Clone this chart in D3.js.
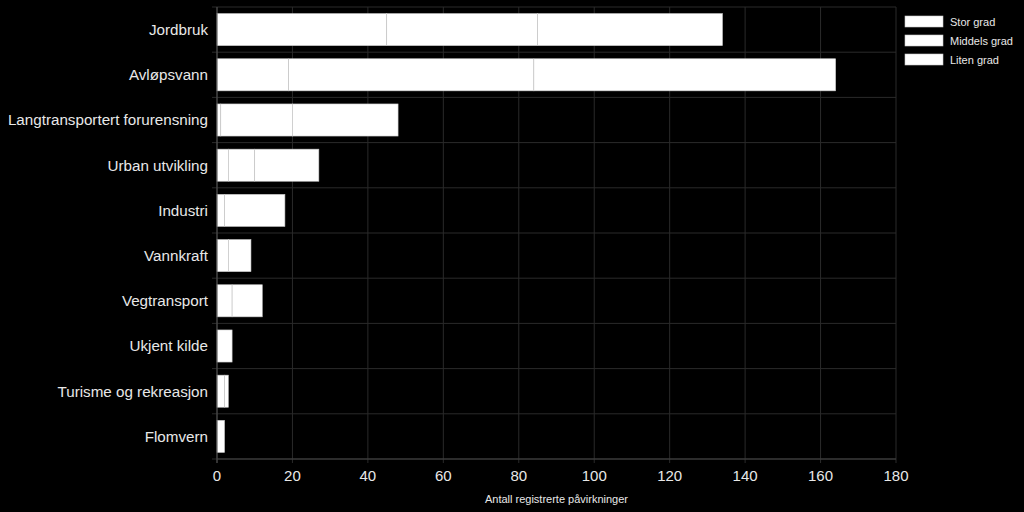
<!DOCTYPE html>
<html><head><meta charset="utf-8">
<script src="https://cdn.jsdelivr.net/npm/d3@7"></script>
<style>body{margin:0;background:#000;}svg{display:block;}</style>
</head><body>
<svg id="c" width="1024" height="512"></svg>
<script>
const categories = ["Jordbruk","Avløpsvann","Langtransportert forurensning","Urban utvikling","Industri","Vannkraft","Vegtransport","Ukjent kilde","Turisme og rekreasjon","Flomvern"];
const seriesNames = ["Stor grad","Middels grad","Liten grad"];
const storGrad =    [45, 19, 1, 3, 2, 3, 4, 0, 0, 0];
const middelsGrad = [40, 65, 19, 7, 0, 0, 0, 0, 2, 0];
const litenGrad =   [49, 80, 28, 17, 16, 6, 8, 4, 1, 2];
const xTicks = [0,20,40,60,80,100,120,140,160,180];
const xTitle = "Antall registrerte påvirkninger";

const svg = d3.select("#c");
svg.append("rect").attr("width",1024).attr("height",512).attr("fill","#000");
const L=217, R=896, T=7, B=459;
const x = d3.scaleLinear().domain([0,180]).range([L,R]);
const y = d3.scaleBand().domain(categories).range([T,B]).paddingInner(0.29).paddingOuter(0.145);

const data = categories.map((c,i)=>({cat:c,"Stor grad":storGrad[i],"Middels grad":middelsGrad[i],"Liten grad":litenGrad[i]}));
const stacked = d3.stack().keys(seriesNames)(data);

// vertical grid
svg.append("g").selectAll("line").data(xTicks).join("line")
  .attr("x1",d=>x(d)).attr("x2",d=>x(d)).attr("y1",T).attr("y2",B+4)
  .attr("stroke","#2a2a2a").attr("stroke-width",1);
// horizontal grid at band boundaries
const step = y.step();
const bounds = d3.range(categories.length+1).map(i=>T+i*step);
svg.append("g").selectAll("line").data(bounds).join("line")
  .attr("x1",L-5).attr("x2",R).attr("y1",d=>d).attr("y2",d=>d)
  .attr("stroke","#2a2a2a").attr("stroke-width",1);

// bars
svg.append("g").selectAll("g").data(stacked).join("g")
  .selectAll("rect").data(d=>d.filter(s=>s[1]-s[0]>0)).join("rect")
  .attr("x",d=>x(d[0])).attr("width",d=>x(d[1])-x(d[0]))
  .attr("y",d=>y(d.data.cat)).attr("height",y.bandwidth())
  .attr("fill","#fff").attr("stroke","#c8c8c8").attr("stroke-width",0.6);

// axes lines
svg.append("line").attr("x1",L).attr("x2",L).attr("y1",T).attr("y2",B+4).attr("stroke","#555");
svg.append("line").attr("x1",L).attr("x2",R).attr("y1",B).attr("y2",B).attr("stroke","#444");

// category labels
svg.append("g").selectAll("text").data(categories).join("text")
  .attr("x",L-9).attr("y",d=>y(d)+y.bandwidth()/2).attr("dy","0.35em")
  .attr("text-anchor","end").attr("fill","#e8e8e8")
  .style("font-family","Liberation Sans, Arial, sans-serif").style("font-size","15.2px").text(d=>d);

// tick labels
svg.append("g").selectAll("text").data(xTicks).join("text")
  .attr("x",d=>x(d)).attr("y",481).attr("text-anchor","middle").attr("fill","#e8e8e8")
  .style("font-family","Liberation Sans, Arial, sans-serif").style("font-size","15px").text(d=>d);

svg.append("text").attr("x",x(90)).attr("y",503).attr("text-anchor","middle").attr("fill","#e8e8e8")
  .style("font-family","Liberation Sans, Arial, sans-serif").style("font-size","11px").text(xTitle);

// legend
const lg = svg.append("g").selectAll("g").data(seriesNames).join("g")
  .attr("transform",(d,i)=>`translate(905,${16+i*19})`);
lg.append("rect").attr("width",38).attr("height",11).attr("fill","#fff").attr("stroke","#c8c8c8").attr("stroke-width",0.6);
lg.append("text").attr("x",45).attr("y",6).attr("dy","0.35em").attr("fill","#e8e8e8")
  .style("font-family","Liberation Sans, Arial, sans-serif").style("font-size","11px").text(d=>d);
</script>
</body></html>
